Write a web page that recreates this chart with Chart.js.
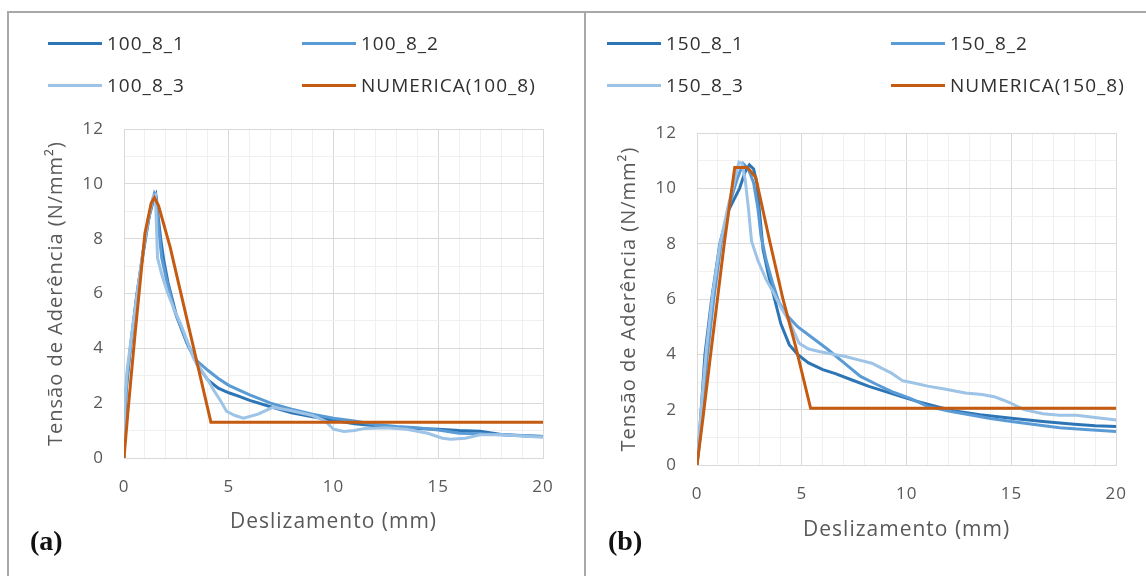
<!DOCTYPE html>
<html>
<head>
<meta charset="utf-8">
<script src="https://cdn.jsdelivr.net/npm/chart.js@4.4.1/dist/chart.umd.min.js"></script>
<style>
  html, body { margin:0; padding:0; background:#fff; }
  body { width:1146px; height:576px; position:relative; overflow:hidden; font-family:"Open Sans", sans-serif; }
  canvas { position:absolute; top:0; }
  .frameH { position:absolute; left:7px; top:11px; width:1139px; height:2px; background:#a8a8a8; }
  .frameV { position:absolute; top:11px; width:2px; height:565px; background:#a8a8a8; }
  .leg { position:absolute; font-size:19px; letter-spacing:1px; color:#303030; line-height:20px; white-space:nowrap; }
  .leg i { position:absolute; left:0; top:9px; width:54px; height:3px; }
  .leg span { position:absolute; left:59px; top:0; }
  .tag { position:absolute; font-family:"Liberation Serif", "Times New Roman", serif; font-weight:bold; font-size:28px; color:#111; }
</style>
</head>
<body>
<div class="frameH"></div>
<div class="frameV" style="left:7px"></div>
<div class="frameV" style="left:584px"></div>
<canvas id="ca" width="585" height="576" style="left:0"></canvas>
<canvas id="cb" width="561" height="576" style="left:585px"></canvas>
<div id="legA"></div>
<div id="legB"></div>
<div class="tag" style="left:30px; top:525px">(a)</div>
<div class="tag" style="left:608px; top:525px">(b)</div>
<script>
// ---------- data: panel (a) 100_8 ----------
const LABELS_A = ["100_8_1", "100_8_2", "100_8_3", "NUMERICA(100_8)"];
const A1_X = [0, 0.05, 0.1, 0.3, 0.6, 0.9, 1.2, 1.4, 1.52, 1.6, 1.75, 1.9, 2.1, 2.5, 3.0, 3.5, 4.0, 4.5, 5.0, 5.5, 6.0, 7.0, 8.0, 9.0, 10.0, 11.0, 12.0, 13.0, 14.0, 15.0, 16.0, 17.0, 18.0, 19.0, 20.0];
const A1_Y = [0, 1.5, 2.4, 4.0, 5.9, 7.4, 8.8, 9.4, 9.6, 9.0, 8.0, 7.2, 6.4, 5.2, 4.2, 3.4, 2.85, 2.55, 2.38, 2.25, 2.1, 1.87, 1.65, 1.5, 1.38, 1.25, 1.18, 1.12, 1.08, 1.05, 1.0, 0.98, 0.86, 0.81, 0.78];
const A2_X = [0, 0.05, 0.15, 0.4, 0.7, 1.0, 1.3, 1.45, 1.55, 1.65, 1.8, 2.0, 2.4, 2.9, 3.4, 4.0, 4.5, 5.0, 6.0, 7.0, 8.0, 9.0, 10.0, 11.0, 12.0, 13.0, 14.0, 15.0, 16.0, 17.0, 18.0, 19.0, 20.0];
const A2_Y = [0, 1.8, 3.0, 4.6, 6.4, 8.0, 9.2, 9.65, 9.5, 8.4, 7.3, 6.6, 5.4, 4.4, 3.6, 3.2, 2.9, 2.65, 2.3, 2.0, 1.78, 1.6, 1.45, 1.35, 1.22, 1.15, 1.1, 1.02, 0.9, 0.88, 0.85, 0.82, 0.78];
const A3_X = [0, 0.05, 0.15, 0.4, 0.65, 0.9, 1.15, 1.4, 1.5, 1.6, 1.8, 2.05, 2.4, 2.7, 3.0, 3.35, 3.7, 4.0, 4.3, 4.6, 4.9, 5.3, 5.7, 6.4, 7.1, 8.0, 9.0, 9.6, 10.0, 10.5, 11.0, 11.5, 12.5, 13.5, 14.5, 15.2, 15.6, 16.3, 17.0, 18.0, 19.0, 20.0];
const A3_Y = [0, 2.2, 3.2, 4.7, 6.1, 7.5, 8.7, 9.55, 9.6, 7.3, 6.7, 6.1, 5.4, 4.9, 4.3, 3.6, 3.2, 2.85, 2.45, 2.1, 1.7, 1.55, 1.45, 1.6, 1.85, 1.72, 1.55, 1.35, 1.05, 0.97, 1.0, 1.08, 1.1, 1.05, 0.9, 0.72, 0.68, 0.72, 0.85, 0.85, 0.8, 0.76];
const AN_X = [0, 0.2, 0.5, 1.0, 1.3, 1.45, 1.65, 2.2, 4.15, 20];
const AN_Y = [0, 1.8, 4.3, 8.2, 9.3, 9.5, 9.2, 7.7, 1.3, 1.3];

// ---------- data: panel (b) 150_8 ----------
const LABELS_B = ["150_8_1", "150_8_2", "150_8_3", "NUMERICA(150_8)"];
const B1_X = [0, 0.1, 0.2, 0.38, 0.7, 1.09, 1.5, 2.03, 2.3, 2.5, 2.7, 2.85, 3.0, 3.15, 3.4, 3.7, 4.0, 4.4, 4.8, 5.3, 6.0, 6.6, 7.3, 8.2, 9.0, 9.75, 10.5, 11.5, 12.3, 13.5, 15.0, 16.5, 18.0, 19.0, 20.0];
const B1_Y = [0, 0.9, 2.0, 4.0, 6.0, 8.0, 9.2, 10.0, 10.6, 10.85, 10.7, 10.2, 9.0, 7.8, 6.9, 6.0, 5.1, 4.35, 4.0, 3.7, 3.45, 3.3, 3.1, 2.84, 2.65, 2.47, 2.3, 2.1, 1.95, 1.82, 1.69, 1.57, 1.47, 1.42, 1.39];
const B2_X = [0, 0.15, 0.3, 0.5, 0.8, 1.15, 1.5, 1.9, 2.2, 2.45, 2.7, 2.9, 3.05, 3.3, 3.6, 3.9, 4.3, 4.8, 5.5, 6.2, 7.0, 7.8, 8.6, 9.4, 10.2, 11.0, 12.0, 13.0, 14.0, 15.0, 16.0, 17.3, 18.5, 20.0];
const B2_Y = [0, 1.0, 2.3, 4.0, 6.0, 8.0, 9.3, 10.3, 10.9, 10.7, 10.2, 9.3, 8.3, 7.4, 6.6, 5.9, 5.4, 5.0, 4.6, 4.2, 3.7, 3.2, 2.9, 2.62, 2.4, 2.12, 1.95, 1.82, 1.68, 1.57, 1.47, 1.35, 1.28, 1.21];
const B3_X = [0, 0.1, 0.25, 0.45, 0.75, 1.1, 1.5, 1.8, 2.0, 2.15, 2.3, 2.45, 2.6, 2.9, 3.3, 3.6, 4.0, 4.4, 4.87, 5.3, 5.82, 6.5, 7.08, 7.7, 8.34, 8.8, 9.28, 9.8, 10.23, 11.0, 11.8, 12.8, 13.6, 14.17, 14.6, 14.96, 15.6, 16.5, 17.3, 18.1, 19.0, 20.0];
const B3_Y = [0, 1.0, 2.5, 4.2, 6.2, 8.0, 9.4, 10.3, 10.95, 10.9, 10.3, 9.3, 8.1, 7.4, 6.7, 6.3, 5.7, 5.2, 4.4, 4.2, 4.1, 4.0, 3.92, 3.8, 3.68, 3.5, 3.32, 3.05, 2.98, 2.85, 2.75, 2.6, 2.55, 2.47, 2.35, 2.24, 2.0, 1.85, 1.8, 1.8, 1.72, 1.63];
const BN_X = [0, 0.3, 0.65, 1.3, 1.8, 2.4, 2.8, 3.45, 4.1, 4.7, 5.42, 20];
const BN_Y = [0, 1.8, 4.0, 8.0, 10.75, 10.75, 10.4, 8.15, 6.0, 4.3, 2.05, 2.05];

// ---------- axes ----------
const X_MIN = 0, X_MAX = 20, X_MAJOR = 5;
const Y_MIN = 0, Y_MAX = 12, Y_MAJOR = 2;
const X_TITLE = "Deslizamento (mm)";
const Y_TITLE = "Tensão de Aderência (N/mm²)";

const COLORS = ["#2E75B6", "#5B9BD5", "#9DC3E6", "#C55A11"];
const GRID_MAJOR = "#d9d9d9", GRID_MINOR = "#f0f0f0", TXT = "#595959";
const FONT = "'Open Sans', sans-serif";

function zip(xs, ys) { return xs.map((x, i) => ({x: x, y: ys[i]})); }

// widen canvas text slightly (reference uses spaced glyphs)
const spacing = {
  id: 'spacing',
  beforeLayout(chart) { chart.ctx.letterSpacing = '1px'; },
  beforeDraw(chart) { chart.ctx.letterSpacing = '1px'; }
};

function makeChart(id, labels, series, area) {
  const datasets = series.map((s, i) => ({
    label: labels[i],
    data: zip(s[0], s[1]),
    borderColor: COLORS[i],
    backgroundColor: COLORS[i],
    borderWidth: 3,
    pointRadius: 0,
    showLine: true,
    tension: 0,
    order: 3 - i
  }));
  return new Chart(document.getElementById(id), {
    type: 'scatter',
    data: { datasets },
    plugins: [spacing],
    options: {
      responsive: false,
      animation: false,
      devicePixelRatio: 1,
      layout: { padding: { left: area.left - area.yw, right: area.right, top: area.top, bottom: 0 } },
      plugins: { legend: { display: false }, tooltip: { enabled: false } },
      scales: {
        x: {
          type: 'linear', min: X_MIN, max: X_MAX,
          afterFit: (s) => { s.height = area.xh; },
          ticks: { stepSize: 1, autoSkip: false, maxRotation: 0, padding: 19, color: TXT,
                   font: { family: FONT, size: 17 },
                   callback: (v) => (v % X_MAJOR === 0 ? String(v) : '') },
          grid: { drawTicks: false, color: (c) => (c.tick && c.tick.value % X_MAJOR === 0 ? GRID_MAJOR : GRID_MINOR) },
          border: { color: GRID_MAJOR },
          title: { display: true, text: X_TITLE, color: TXT, font: { family: FONT, size: 21 }, padding: { top: 0, bottom: area.xtb } }
        },
        y: {
          type: 'linear', min: Y_MIN, max: Y_MAX,
          afterFit: (s) => { s.width = area.yw; },
          ticks: { stepSize: 1, autoSkip: false, padding: 20, color: TXT,
                   font: { family: FONT, size: 17 },
                   callback: (v) => (v % Y_MAJOR === 0 ? String(v) : '') },
          grid: { drawTicks: false, color: (c) => (c.tick && c.tick.value % Y_MAJOR === 0 ? GRID_MAJOR : GRID_MINOR) },
          border: { color: GRID_MAJOR },
          title: { display: true, text: Y_TITLE, color: TXT, font: { family: FONT, size: 20 }, padding: { top: area.ytp, bottom: 0 } }
        }
      }
    }
  });
}

makeChart('ca', LABELS_A, [[A1_X, A1_Y], [A2_X, A2_Y], [A3_X, A3_Y], [AN_X, AN_Y]],
  { left: 124, yw: 90, right: 42, top: 129, xh: 118, xtb: 41, ytp: 10 });
makeChart('cb', LABELS_B, [[B1_X, B1_Y], [B2_X, B2_Y], [B3_X, B3_Y], [BN_X, BN_Y]],
  { left: 112, yw: 90, right: 26, top: 133, xh: 111, xtb: 33, ytp: 10 });

// ---------- legends (HTML) ----------
function legend(el, labels, cols, rows) {
  const host = document.getElementById(el);
  labels.forEach((t, i) => {
    const d = document.createElement('div');
    d.className = 'leg';
    d.style.left = cols[i % 2] + 'px';
    d.style.top = rows[Math.floor(i / 2)] + 'px';
    d.innerHTML = '<i style="background:' + COLORS[i] + '"></i><span>' + t + '</span>';
    host.appendChild(d);
  });
}
legend('legA', LABELS_A, [48, 302], [33, 75]);
legend('legB', LABELS_B, [607, 891], [33, 75]);
</script>
</body>
</html>
